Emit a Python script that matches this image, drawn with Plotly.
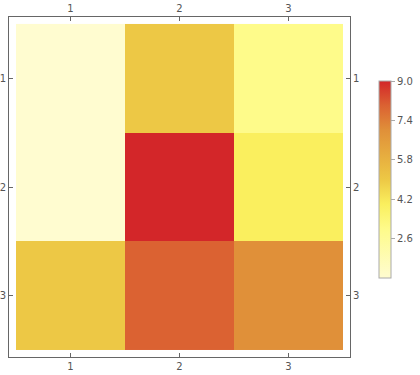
import plotly.graph_objects as go

rows = [1, 2, 3]
cols = [1, 2, 3]
z = [
    [1, 5, 3],
    [1, 9, 4],
    [5, 8, 7],
]
cb_ticks = [2.6, 4.2, 5.8, 7.4, 9.0]
cb_text = ["2.6", "4.2", "5.8", "7.4", "9.0"]

colorscale = [
    [0.0, "#fffcd0"],
    [0.25, "#fefb8a"],
    [0.375, "#faef5e"],
    [0.5, "#edc845"],
    [0.75, "#e09039"],
    [0.875, "#db6232"],
    [1.0, "#d32629"],
]

W, H = 420, 375
L, R, T, B = 9, 70, 17, 18
pad = 7 / 109.0

fig = go.Figure()
fig.add_trace(go.Heatmap(
    x=cols, y=rows, z=z, zmin=1, zmax=9,
    colorscale=colorscale, xgap=0, ygap=0,
    hoverinfo="skip",
    colorbar=dict(
        x=(379 - L) / (W - L - R), xanchor="left",
        y=(H - B - 179.5) / (H - T - B), yanchor="middle",
        len=197 / (H - T - B), lenmode="fraction",
        thickness=12, thicknessmode="pixels",
        outlinecolor="#aaaaaa", outlinewidth=1,
        tickvals=cb_ticks, ticktext=cb_text,
        ticks="outside", ticklen=4, tickcolor="#aaaaaa",
        tickfont=dict(family="DejaVu Sans", size=10, color="#555555"),
        xpad=0, ypad=0,
    ),
))
# invisible trace for top/right axes
fig.add_trace(go.Scatter(x=[None], y=[None], xaxis="x2", yaxis="y2",
                         showlegend=False, hoverinfo="skip"))

xr = [0.5 - pad, 3.5 + pad]
yr = [3.5 + pad, 0.5 - pad]
axfont = dict(family="DejaVu Sans", size=10, color="#555555")
common = dict(tickvals=[1, 2, 3], ticktext=["1", "2", "3"], ticks="inside",
              ticklen=4, tickcolor="#666666", showgrid=False, zeroline=False,
              showline=True, linecolor="#666666", linewidth=1,
              tickfont=axfont, fixedrange=True, automargin=False)

fig.update_layout(
    width=W, height=H,
    margin=dict(l=L, r=R, t=T, b=B, autoexpand=False),
    paper_bgcolor="white", plot_bgcolor="white",
    xaxis=dict(range=xr, side="bottom", **common),
    yaxis=dict(range=yr, side="left", **common),
    xaxis2=dict(range=xr, side="top", overlaying="x", anchor="y", **common),
    yaxis2=dict(range=yr, side="right", overlaying="y", anchor="x", **common),
)

fig.write_html("out.html")
